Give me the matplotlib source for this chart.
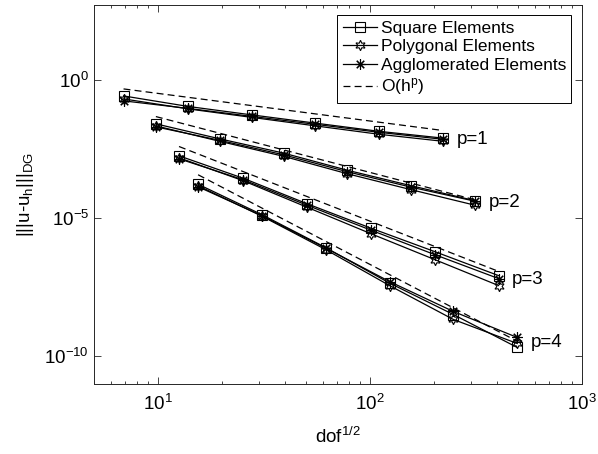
import matplotlib
matplotlib.use('Agg')
import matplotlib.pyplot as plt
from matplotlib.ticker import LogLocator, NullLocator

plt.rcParams['font.family'] = ['Liberation Sans', 'DejaVu Sans']
plt.rcParams['mathtext.fontset'] = 'custom'
plt.rcParams['mathtext.rm'] = 'Liberation Sans'
plt.rcParams['mathtext.it'] = 'Liberation Sans:italic'
plt.rcParams['mathtext.default'] = 'regular'
plt.rcParams['lines.scale_dashes'] = False

# dof^(1/2) for each polynomial degree
dof_p1 = [6.9, 13.9, 27.7, 55.4, 110.9, 221.7]
dof_p2 = [9.8, 19.6, 39.2, 78.4, 156.8, 313.5]
dof_p3 = [12.6, 25.3, 50.6, 101.2, 202.4, 404.8]
dof_p4 = [15.5, 31.0, 62.0, 123.9, 247.9, 495.8]

# DG-norm errors
square_p1 = [0.264, 0.110, 0.0545, 0.0274, 0.0138, 0.00785]
poly_p1 = [0.206, 0.0897, 0.0443, 0.0218, 0.0108, 0.00603]
agglo_p1 = [0.175, 0.0935, 0.0481, 0.0248, 0.0127, 0.00711]

square_p2 = [0.0258, 7.41e-3, 2.26e-3, 5.41e-4, 1.49e-4, 4.29e-5]
poly_p2 = [0.0218, 6.03e-3, 1.73e-3, 4.04e-4, 1.07e-4, 2.94e-5]
agglo_p2 = [0.0201, 6.55e-3, 1.96e-3, 4.78e-4, 1.32e-4, 4.11e-5]

square_p3 = [1.80e-3, 2.78e-4, 3.33e-5, 4.36e-6, 6.18e-7, 8.39e-8]
poly_p3 = [1.53e-3, 2.26e-4, 2.49e-5, 2.75e-6, 3.18e-7, 3.66e-8]
agglo_p3 = [1.41e-3, 2.45e-4, 2.94e-5, 3.69e-6, 4.81e-7, 6.55e-8]

square_p4 = [1.69e-4, 1.34e-5, 8.61e-7, 4.50e-8, 3.28e-9, 2.11e-10]
poly_p4 = [1.49e-4, 1.18e-5, 7.30e-7, 3.66e-8, 2.17e-9, 2.94e-10]
agglo_p4 = [1.37e-4, 1.23e-5, 8.26e-7, 5.11e-8, 4.22e-9, 4.85e-10]

# O(h^p) reference lines (start and end values)
ref_p1 = [0.473, 0.0148]
ref_p2 = [0.0473, 4.61e-5]
ref_p3 = [3.91e-3, 1.19e-7]
ref_p4 = [3.72e-4, 3.54e-10]

degrees = ['p=1', 'p=2', 'p=3', 'p=4']
dofs = [dof_p1, dof_p2, dof_p3, dof_p4]
squares = [square_p1, square_p2, square_p3, square_p4]
polys = [poly_p1, poly_p2, poly_p3, poly_p4]
agglos = [agglo_p1, agglo_p2, agglo_p3, agglo_p4]
refs = [ref_p1, ref_p2, ref_p3, ref_p4]

fig = plt.figure(figsize=(5.98, 4.54), dpi=100)
ax = fig.add_axes([0.157, 0.154, 0.816, 0.835])

lw = 0.9
ms = 6.5
for i in range(4):
    x = dofs[i]
    first = (i == 0)
    ax.plot(x, squares[i], color='k', lw=lw, marker='s', ms=ms, mfc='none', mew=0.8,
            label='Square Elements' if first else None)
    ax.plot(x, polys[i], color='k', lw=lw, marker=(6, 1, 0), ms=ms + 1, mfc='none', mew=0.8,
            label='Polygonal Elements' if first else None)
    ax.plot(x, agglos[i], color='k', lw=lw, marker=(8, 2, 0), ms=ms + 1, mew=0.8,
            label='Agglomerated Elements' if first else None)
    ax.plot([x[0], x[-1]], refs[i], color='k', lw=lw, dashes=(5, 3),
            label='O(h$^p$)' if first else None)
    ylab = (squares[i][-1] * polys[i][-1] * agglos[i][-1]) ** (1 / 3.)
    ax.text(x[-1] * 1.16, ylab, degrees[i], fontsize=13.5, va='center', ha='left')

ax.set_xscale('log')
ax.set_yscale('log')
ax.set_xlim(5, 1000)
ax.set_ylim(1e-11, 10 ** 2.71)
ax.set_yticks([1e-10, 1e-5, 1e0])
ax.yaxis.set_minor_locator(NullLocator())
ax.xaxis.set_major_locator(LogLocator(base=10))
ax.xaxis.set_minor_locator(LogLocator(base=10, subs=range(2, 10)))

ax.tick_params(which='both', direction='in', top=True, right=True, labelsize=13.5,
               color='#262626', width=0.6)
ax.tick_params(which='major', length=5)
ax.tick_params(axis='x', which='major', pad=7)
ax.tick_params(which='minor', length=2.5)
for s in ax.spines.values():
    s.set_linewidth(0.7)
    s.set_color('#262626')

ax.set_xlabel('dof$^{1/2}$', fontsize=13.5, labelpad=9)
ax.set_ylabel('|||u-u$_h$|||$_{DG}$', fontsize=13.5, labelpad=6)

leg = ax.legend(loc='upper right', fontsize=12.5, frameon=True, fancybox=False,
                edgecolor='k', framealpha=1, handlelength=2.0, handletextpad=0.2,
                labelspacing=0.2, borderpad=0.3, borderaxespad=0.6)
leg.get_frame().set_linewidth(0.7)

fig.savefig('out.png', dpi=100)
